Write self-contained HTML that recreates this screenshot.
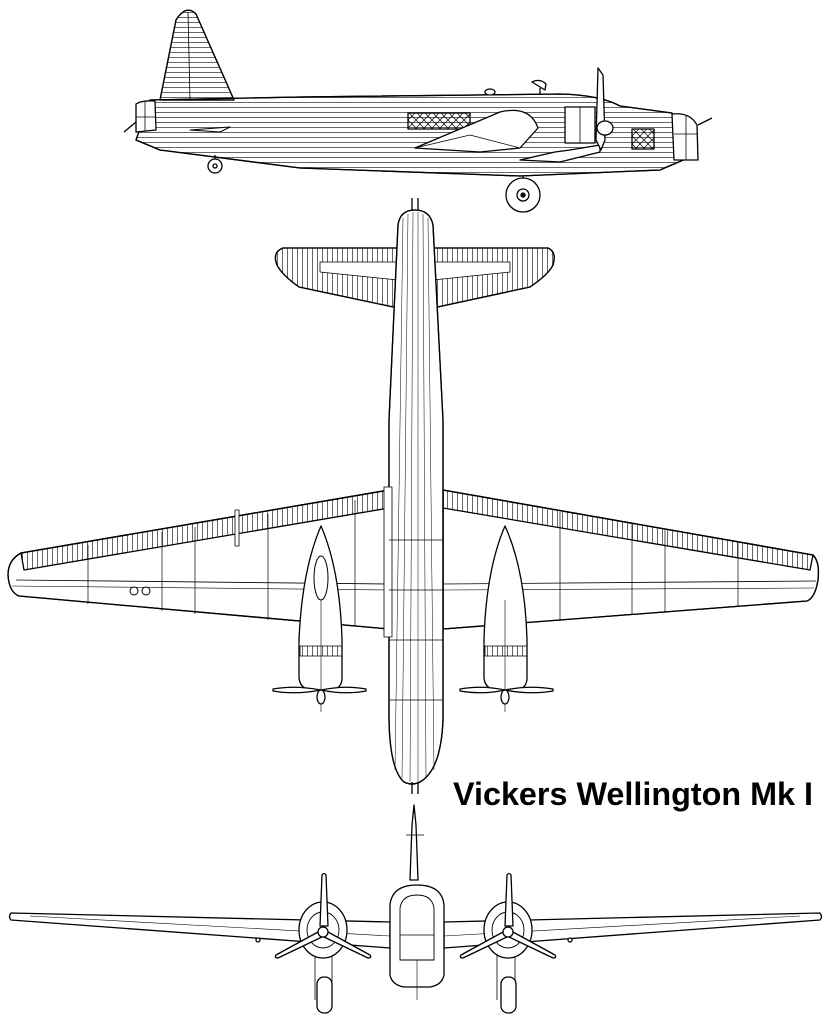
<!DOCTYPE html>
<html><head><meta charset="utf-8"><style>
html,body{margin:0;padding:0;background:#fff;}
svg{display:block}
</style></head><body>
<svg width="834" height="1024" viewBox="0 0 834 1024" xmlns="http://www.w3.org/2000/svg">
<defs>
<pattern id="hl" width="10" height="5" patternUnits="userSpaceOnUse"><line x1="0" y1="2.5" x2="10" y2="2.5" stroke="#000" stroke-width="0.6"/></pattern>
<pattern id="vl" width="5" height="10" patternUnits="userSpaceOnUse"><line x1="2.5" y1="0" x2="2.5" y2="10" stroke="#000" stroke-width="0.6"/></pattern>
<pattern id="xh" width="8" height="8" patternUnits="userSpaceOnUse"><path d="M0 0L8 8M8 0L0 8" stroke="#000" stroke-width="0.7"/></pattern>
</defs>
<g fill="#fff" stroke="#000" stroke-width="1.3" stroke-linejoin="round">

<!-- ===== SIDE VIEW ===== -->
<path d="M160 100 L176 20 Q186 4 196 14 L234 100 Z" fill="url(#hl)"/>
<path d="M160 100 L176 20 Q186 4 196 14 L234 100 Z" fill="none"/>
<line x1="188" y1="12" x2="190" y2="100" stroke-width="0.8"/>
<path d="M150 100 L300 97 L560 94 Q600 95 620 106 L672 113 L690 140 L688 158 L660 170 L520 176 L300 168 L160 150 L136 140 Z" fill="url(#hl)"/>
<path d="M150 100 L300 97 L560 94 Q600 95 620 106 L672 113 L690 140 L688 158 L660 170 L520 176 L300 168 L160 150 L136 140 Z" fill="none"/>
<path d="M136 104 Q142 100 155 101 L156 130 L136 132 Z"/>
<line x1="136" y1="117" x2="156" y2="117" stroke-width="0.8"/>
<line x1="145" y1="102" x2="145" y2="131" stroke-width="0.8"/>
<line x1="136" y1="122" x2="124" y2="132"/>
<path d="M672 114 Q690 112 697 125 L698 160 L674 160 Z"/>
<line x1="674" y1="134" x2="698" y2="134" stroke-width="0.8"/>
<line x1="686" y1="115" x2="686" y2="160" stroke-width="0.8"/>
<line x1="698" y1="125" x2="712" y2="118"/>
<rect x="408" y="113" width="62" height="16" fill="url(#xh)"/>
<rect x="632" y="129" width="22" height="20" fill="url(#xh)"/>
<path d="M415 148 L500 112 Q530 105 538 128 L520 148 L480 152 Z"/>
<path d="M415 148 L470 135 L520 148" fill="none" stroke-width="0.8"/>
<path d="M520 160 L555 152 L570 150 L600 145 L600 152 L560 162 Z"/>
<rect x="565" y="107" width="30" height="36" fill="#fff"/>
<line x1="580" y1="107" x2="580" y2="143" stroke-width="0.8"/>
<path d="M598 68 L603 75 L605 140 L601 150 L596 140 Z"/>
<ellipse cx="605" cy="128" rx="8" ry="7"/>
<path d="M532 82 Q540 78 546 84 L545 90 Z"/>
<line x1="540" y1="88" x2="540" y2="94"/>
<ellipse cx="490" cy="92" rx="5" ry="3"/>
<path d="M190 130 L230 127 L220 132 Z" stroke-width="1"/>
<line x1="523" y1="176" x2="523" y2="182"/>
<circle cx="523" cy="195" r="17"/>
<circle cx="523" cy="195" r="6"/>
<circle cx="523" cy="195" r="2" fill="#000"/>
<line x1="215" y1="155" x2="215" y2="160"/>
<circle cx="215" cy="166" r="7"/>
<circle cx="215" cy="166" r="2"/>

<!-- ===== TOP VIEW ===== -->
<path d="M389 490 L21 553 Q8 560 8 575 Q9 592 19 596 L389 629 Z" fill="#fff"/>
<path d="M389 490 L21 553 L24 570 L389 508 Z" fill="url(#vl)"/>
<path d="M389 490 L21 553 Q8 560 8 575 Q9 592 19 596 L389 629 Z" fill="none"/>
<line x1="16" y1="580" x2="389" y2="584" stroke-width="0.8"/>
<line x1="12" y1="586" x2="389" y2="590" stroke-width="0.6"/>
<g stroke-width="0.7">
<line x1="88" y1="545" x2="88" y2="604"/><line x1="162" y1="532" x2="162" y2="611"/>
<line x1="195" y1="527" x2="195" y2="614"/><line x1="268" y1="514" x2="268" y2="620"/>
<line x1="355" y1="500" x2="355" y2="626"/>
</g>
<rect x="235" y="510" width="4" height="36" stroke-width="0.8"/>
<circle cx="134" cy="591" r="4" stroke-width="1"/><circle cx="146" cy="591" r="4" stroke-width="1"/>

<path d="M443 490 L813 555 Q820 562 818 580 Q815 598 807 601 L443 629 Z" fill="#fff"/>
<path d="M443 490 L813 555 L810 570 L443 508 Z" fill="url(#vl)"/>
<path d="M443 490 L813 555 Q820 562 818 580 Q815 598 807 601 L443 629 Z" fill="none"/>
<line x1="443" y1="584" x2="816" y2="581" stroke-width="0.8"/>
<line x1="443" y1="590" x2="814" y2="588" stroke-width="0.6"/>
<g stroke-width="0.7">
<line x1="560" y1="512" x2="560" y2="621"/><line x1="632" y1="524" x2="632" y2="615"/>
<line x1="665" y1="530" x2="665" y2="613"/><line x1="738" y1="543" x2="738" y2="607"/>
</g>
<path d="M398 248 L283 248 Q272 252 277 265 Q282 275 299 287 L398 308 Z" fill="url(#vl)"/>
<path d="M398 248 L283 248 Q272 252 277 265 Q282 275 299 287 L398 308 Z" fill="none"/>
<path d="M433 248 L548 248 Q557 252 553 265 Q548 275 530 287 L433 308 Z" fill="url(#vl)"/>
<path d="M433 248 L548 248 Q557 252 553 265 Q548 275 530 287 L433 308 Z" fill="none"/>
<path d="M320 262 L398 262 L398 280 L320 272 Z" fill="#fff" stroke-width="0.8"/>
<path d="M433 262 L510 262 L510 272 L433 280 Z" fill="#fff" stroke-width="0.8"/>
<path d="M398 225 Q400 210 415 210 Q430 210 433 225 L443 420 L443 720 Q441 770 420 782 Q412 786 404 782 Q390 770 389 720 L389 420 Z" fill="#fff"/>
<g stroke-width="0.5">
<line x1="403" y1="218" x2="395" y2="770"/><line x1="408" y1="214" x2="402" y2="778"/>
<line x1="413" y1="212" x2="410" y2="782"/><line x1="418" y1="212" x2="418" y2="782"/>
<line x1="423" y1="214" x2="426" y2="778"/><line x1="428" y1="218" x2="434" y2="770"/>
</g>
<path d="M398 225 Q400 210 415 210 Q430 210 433 225 L443 420 L443 720 Q441 770 420 782 Q412 786 404 782 Q390 770 389 720 L389 420 Z" fill="none"/>
<line x1="412" y1="198" x2="412" y2="210"/><line x1="418" y1="198" x2="418" y2="210"/>
<line x1="412" y1="782" x2="412" y2="794"/><line x1="418" y1="782" x2="418" y2="794"/>
<rect x="384" y="487" width="8" height="150" stroke-width="0.8"/>
<g stroke-width="0.7"><line x1="389" y1="540" x2="443" y2="540"/><line x1="389" y1="590" x2="443" y2="590"/><line x1="389" y1="640" x2="443" y2="640"/><line x1="389" y1="700" x2="443" y2="700"/></g>
<path d="M321 526 Q302 570 299 640 L299 678 Q300 688 310 690 L332 690 Q342 688 342 678 L342 640 Q340 570 321 526 Z"/>
<ellipse cx="321" cy="578" rx="7" ry="22" stroke-width="1"/>
<rect x="300" y="646" width="42" height="10" fill="url(#vl)" stroke-width="0.8"/>
<line x1="321" y1="600" x2="321" y2="712" stroke-width="0.6"/>
<path d="M273 689 Q295 685 321 690 Q295 695 273 691 Z"/>
<path d="M366 689 Q345 685 321 690 Q345 695 366 691 Z"/>
<ellipse cx="321" cy="697" rx="4" ry="7"/>
<path d="M505 526 Q486 570 484 640 L484 678 Q485 688 495 690 L517 690 Q527 688 527 678 L527 640 Q525 570 505 526 Z"/>
<rect x="485" y="646" width="42" height="10" fill="url(#vl)" stroke-width="0.8"/>
<line x1="505" y1="600" x2="505" y2="712" stroke-width="0.6"/>
<path d="M460 689 Q482 685 505 690 Q482 695 460 691 Z"/>
<path d="M553 689 Q530 685 505 690 Q530 695 553 691 Z"/>
<ellipse cx="505" cy="697" rx="4" ry="7"/>

<!-- ===== FRONT VIEW ===== -->
<path d="M11 913 Q8 917 11 920 L390 948 L390 922 Z"/>
<path d="M820 913 Q823 917 820 920 L444 948 L444 922 Z"/>
<line x1="30" y1="916" x2="390" y2="936" stroke-width="0.6"/>
<line x1="800" y1="916" x2="444" y2="936" stroke-width="0.6"/>
<path d="M412 825 L414 805 L416 825 L418 880 L410 880 Z"/>
<line x1="406" y1="835" x2="424" y2="835" stroke-width="0.8"/>
<path d="M390 905 Q392 885 417 885 Q442 885 444 905 L444 975 Q442 985 430 987 L404 987 Q392 985 390 975 Z"/>
<path d="M400 908 Q402 895 417 895 Q432 895 434 908 L434 960 L400 960 Z" stroke-width="0.9"/>
<line x1="400" y1="935" x2="434" y2="935" stroke-width="0.7"/>
<line x1="417" y1="960" x2="417" y2="1000" stroke-width="0.6"/>
<g>
<line x1="315" y1="950" x2="315" y2="1000" stroke-width="0.8"/><line x1="332" y1="950" x2="332" y2="1000" stroke-width="0.8"/>
<rect x="317" y="977" width="15" height="36" rx="7"/>
<ellipse cx="323" cy="930" rx="24" ry="28"/>
<ellipse cx="323" cy="930" rx="16" ry="18" stroke-width="0.9"/>
<path d="M320 926 L322 875 Q324 872 326 875 L328 926 Z"/>
<path d="M318 932 L276 955 Q274 958 278 958 L324 936 Z"/>
<path d="M328 932 L370 955 Q372 958 368 958 L322 936 Z"/>
<circle cx="323" cy="932" r="5"/>
</g>
<g>
<line x1="497" y1="950" x2="497" y2="1000" stroke-width="0.8"/><line x1="515" y1="950" x2="515" y2="1000" stroke-width="0.8"/>
<rect x="501" y="977" width="15" height="36" rx="7"/>
<ellipse cx="508" cy="930" rx="24" ry="28"/>
<ellipse cx="508" cy="930" rx="16" ry="18" stroke-width="0.9"/>
<path d="M505 926 L507 875 Q509 872 511 875 L513 926 Z"/>
<path d="M503 932 L461 955 Q459 958 463 958 L509 936 Z"/>
<path d="M513 932 L555 955 Q557 958 553 958 L507 936 Z"/>
<circle cx="508" cy="932" r="5"/>
</g>
<circle cx="258" cy="940" r="2"/><circle cx="570" cy="940" r="2"/>
</g>
<text x="453" y="805" font-family="Liberation Sans, Arial, sans-serif" font-weight="bold" font-size="32" textLength="360" lengthAdjust="spacingAndGlyphs" fill="#000">Vickers Wellington Mk I</text>
</svg>
</body></html>
